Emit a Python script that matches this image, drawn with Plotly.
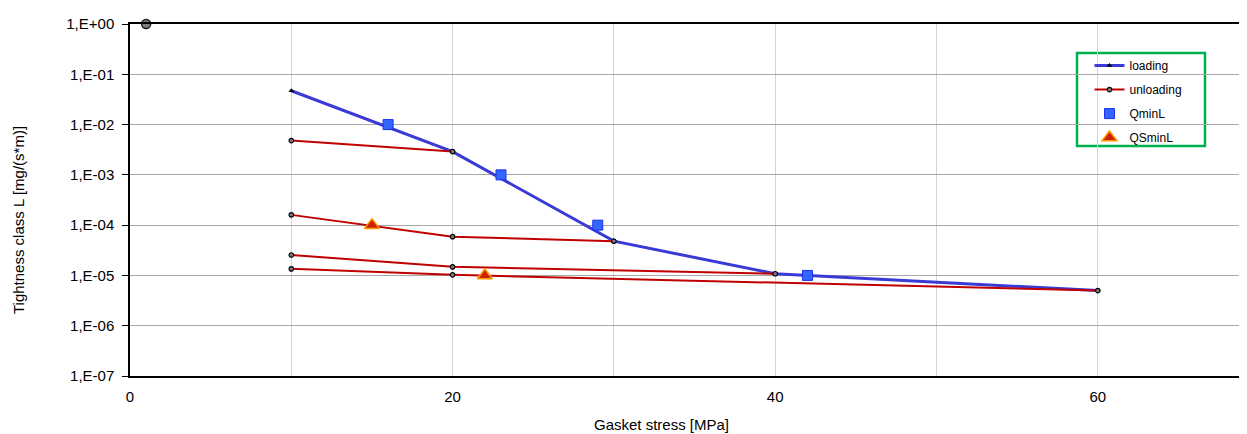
import plotly.graph_objects as go

# Data
loading_x = [10, 20, 30, 40, 60]
loading_y = [4.7e-2, 2.9e-3, 4.8e-5, 1.08e-5, 5.0e-6]

unl1_x = [10, 20]
unl1_y = [4.8e-3, 2.9e-3]
unl2_x = [10, 20, 30]
unl2_y = [1.6e-4, 5.9e-5, 4.8e-5]
unl3_x = [10, 20, 40]
unl3_y = [2.55e-5, 1.48e-5, 1.08e-5]
unl4_x = [10, 20, 60]
unl4_y = [1.35e-5, 1.03e-5, 5.0e-6]

qminl_x = [16, 23, 29, 42]
qminl_y = [1e-2, 1e-3, 1e-4, 1e-5]

qsminl_x = [15, 22]
qsminl_y = [1e-4, 1e-5]

ref_x = [1]
ref_y = [1.0]

ytick_vals = [1e0, 1e-1, 1e-2, 1e-3, 1e-4, 1e-5, 1e-6, 1e-7]
ytick_text = ["1,E+00", "1,E-01", "1,E-02", "1,E-03", "1,E-04", "1,E-05", "1,E-06", "1,E-07"]
xtick_vals = [0, 20, 40, 60]

FONT = "Liberation Sans, Arial, sans-serif"

fig = go.Figure()

fig.add_trace(go.Scatter(
    x=loading_x, y=loading_y, mode="lines+markers", name="loading",
    legendgroup="a",
    line=dict(color="#3a3ad6", width=3),
    marker=dict(symbol="triangle-up", size=5, color="#000000"),
))

# unloading segments
unl_sets = [(unl1_x, unl1_y), (unl2_x, unl2_y), (unl3_x, unl3_y), (unl4_x, unl4_y)]
for i, (ux, uy) in enumerate(unl_sets):
    fig.add_trace(go.Scatter(
        x=ux, y=uy, mode="lines+markers", name="unloading",
        showlegend=(i == 0), legendgroup="b",
        line=dict(color="#c00000", width=2),
        marker=dict(symbol="circle", size=4.5, color="#808080",
                    line=dict(color="#000000", width=1.2)),
    ))

fig.add_trace(go.Scatter(
    x=qminl_x, y=qminl_y, mode="markers", name="QminL", legendgroup="c",
    marker=dict(symbol="square", size=10, color="#3366ff",
                line=dict(color="#1a33ee", width=1)),
))

fig.add_trace(go.Scatter(
    x=qsminl_x, y=qsminl_y, mode="markers", name="QSminL", legendgroup="d",
    marker=dict(symbol="triangle-up", size=13, color="#cc2200",
                line=dict(color="#ff9900", width=1.5)),
))

fig.add_trace(go.Scatter(
    x=ref_x, y=ref_y, mode="markers", showlegend=False, cliponaxis=False,
    marker=dict(symbol="circle", size=9, color="#808080",
                line=dict(color="#202020", width=1.5)),
))

fig.update_layout(
    width=1247, height=434,
    margin=dict(l=122, r=8, t=16, b=66),
    paper_bgcolor="white", plot_bgcolor="white",
    font=dict(family=FONT, size=15, color="#000000"),
    legend=dict(
        x=0.859, y=0.923, xanchor="left", yanchor="top",
        borderwidth=0, bgcolor="rgba(0,0,0,0)",
        font=dict(size=12, family=FONT), tracegroupgap=5,
        itemwidth=30,
    ),
    shapes=[
        dict(type="rect", xref="paper", yref="paper",
             x0=0.8478, x1=0.9624, y0=0.6534, y1=0.9176,
             line=dict(color="#00b050", width=2.5), fillcolor="white",
             layer="below"),
    ],
    annotations=[
        dict(text="Gasket stress [MPa]", xref="paper", yref="paper",
             x=0.4754, y=-0.139, showarrow=False, font=dict(size=15),
             xanchor="center", yanchor="middle"),
        dict(text="Tightness class L [mg/(s*m)]", xref="paper", yref="paper",
             x=-0.1003, y=0.443, showarrow=False, textangle=-90,
             font=dict(size=15), xanchor="center", yanchor="middle"),
    ],
)

fig.update_xaxes(
    range=[0, 69.25], tickvals=xtick_vals, ticks="",
    showgrid=True, gridcolor="#d4d4d4", gridwidth=1,
    minor=dict(dtick=10, tick0=0, showgrid=True, gridcolor="#d4d4d4", gridwidth=1),
    showline=True, linecolor="#000000", linewidth=1.5, mirror=True,
    zeroline=False, ticklabelstandoff=6,
)

fig.update_yaxes(
    type="log", range=[-7, 0], tickvals=ytick_vals, ticktext=ytick_text,
    ticks="outside", ticklen=6, tickcolor="#000000",
    showgrid=True, gridcolor="#a8a8a8", gridwidth=1,
    showline=True, linecolor="#000000", linewidth=1.5,
    zeroline=False, ticklabelstandoff=5,
)

fig.write_html("out.html")
